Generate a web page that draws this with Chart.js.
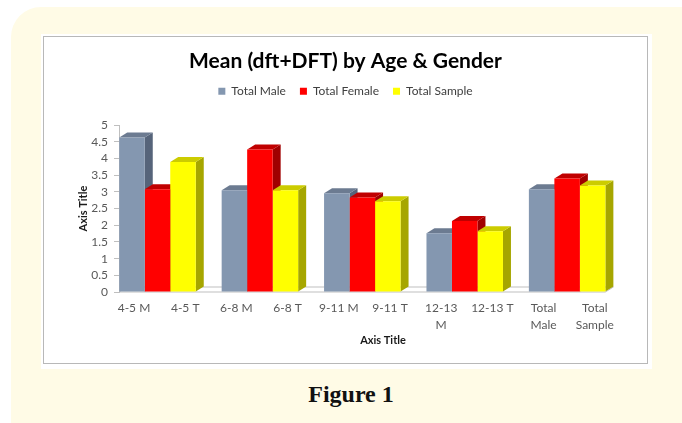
<!DOCTYPE html>
<html>
<head>
<meta charset="utf-8">
<script src="https://cdn.jsdelivr.net/npm/chart.js@4.4.1/dist/chart.umd.min.js"></script>
<style>
  html, body { margin: 0; padding: 0; background: #fff; width: 682px; height: 423px; overflow: hidden; }
  .cream { position: absolute; left: 11px; top: 7px; width: 720px; height: 460px; background: #fffbe6; border-radius: 30px; }
  .white { position: absolute; left: 41px; top: 34px; width: 611px; height: 335px; background: #fff; }
  .box { position: absolute; left: 43px; top: 36px; width: 605px; height: 328px; border: 1px solid #b8b8b8; box-sizing: border-box; background: #fff; }
  .fig { position: absolute; left: 251px; width: 200px; top: 381px; text-align: center; font: bold 24px "Liberation Serif", serif; color: #111; }
</style>
</head>
<body>
<div class="cream"></div>
<div class="white"></div>
<div class="box"><canvas id="chart"></canvas></div>
<div class="fig">Figure 1</div>
<script>
// data
var groups = ['4-5', '6-8', '9-11', '12-13', 'Total'];
var tickLabels = ['4-5 M', '4-5 T', '6-8 M', '6-8 T', '9-11 M', '9-11 T', ['12-13', 'M'], '12-13 T', ['Total', 'Male'], ['Total', 'Sample']];
var totalMale = [4.63, 3.05, 2.96, 1.76, 3.08];
var totalFemale = [3.08, 4.27, 2.83, 2.13, 3.40];
var totalSample = [3.90, 3.05, 2.72, 1.82, 3.19];

// front / top / side colours of the 3d columns
var shades = [
    { front: '#8497b0', top: '#6c7b91', side: '#56647a' },
    { front: '#ff0000', top: '#c00000', side: '#a00000' },
    { front: '#ffff00', top: '#cccc00', side: '#a6a600' }
];
var DX = 8, DY = 5;

function toPoints(values) {
    return values.map(function (v, i) { return { x: i, y: v }; });
}

// fake 3d: floor + column tops/sides drawn behind the front faces
var columns3d = {
    id: 'columns3d',
    beforeDatasetsDraw: function (chart) {
        var ctx = chart.ctx, area = chart.chartArea;
        var last = chart.getDatasetMeta(chart.data.datasets.length - 1).data;
        var endX = last[last.length - 1].x + last[last.length - 1].width / 2;
        ctx.save();
        ctx.beginPath();
        ctx.moveTo(area.left, area.bottom);
        ctx.lineTo(area.left + DX, area.bottom - DY);
        ctx.lineTo(endX + DX, area.bottom - DY);
        ctx.lineTo(endX, area.bottom);
        ctx.closePath();
        ctx.fillStyle = '#fff';
        ctx.fill();
        ctx.strokeStyle = '#bfbfbf';
        ctx.lineWidth = 1;
        ctx.stroke();
        var n = chart.data.datasets[0].data.length;
        for (var i = 0; i < n; i++) {
            chart.data.datasets.forEach(function (ds, d) {
                var bar = chart.getDatasetMeta(d).data[i];
                var l = bar.x - bar.width / 2, r = bar.x + bar.width / 2;
                ctx.fillStyle = shades[d].side;
                ctx.beginPath();
                ctx.moveTo(r, bar.y);
                ctx.lineTo(r + DX, bar.y - DY);
                ctx.lineTo(r + DX, bar.base - DY);
                ctx.lineTo(r, bar.base);
                ctx.closePath();
                ctx.fill();
                ctx.fillStyle = shades[d].top;
                ctx.beginPath();
                ctx.moveTo(l, bar.y);
                ctx.lineTo(l + DX, bar.y - DY);
                ctx.lineTo(r + DX, bar.y - DY);
                ctx.lineTo(r, bar.y);
                ctx.closePath();
                ctx.fill();
            });
        }
        ctx.restore();
    }
};

var legendGap = {
    id: 'legendGap',
    beforeInit: function (chart) {
        var fit = chart.legend.fit;
        chart.legend.fit = function () {
            fit.call(this);
            this.height += 18;
        };
    }
};

Chart.defaults.font.family = 'Lato, "Open Sans", sans-serif';
Chart.defaults.color = '#595959';

var ctx = document.getElementById('chart').getContext('2d');
var chart = new Chart(ctx, {
    type: 'bar',
    data: {
        labels: groups,
        datasets: [
            { label: 'Total Male', data: toPoints(totalMale), backgroundColor: shades[0].front },
            { label: 'Total Female', data: toPoints(totalFemale), backgroundColor: shades[1].front },
            { label: 'Total Sample', data: toPoints(totalSample), backgroundColor: shades[2].front }
        ]
    },
    options: {
        responsive: true,
        maintainAspectRatio: false,
        animation: false,
        categoryPercentage: 0.747,
        barPercentage: 1,
        layout: { padding: 0 },
        plugins: {
            title: {
                display: true,
                text: 'Mean (dft+DFT) by Age & Gender',
                color: '#000',
                font: { size: 21, weight: 'bold' },
                padding: { top: 12, bottom: -3 }
            },
            legend: {
                labels: { boxWidth: 7, boxHeight: 7, padding: 14, font: { size: 12 }, color: '#404040' }
            },
            tooltip: { enabled: false }
        },
        scales: {
            x: {
                type: 'linear',
                display: false,
                offset: false,
                min: -0.376,
                max: 4.78,
                afterBuildTicks: function (scale) {
                    scale.ticks = groups.map(function (g, i) { return { value: i }; });
                }
            },
            x2: {
                type: 'linear',
                axis: 'x',
                position: 'bottom',
                offset: false,
                min: -0.293,
                max: 10.02,
                afterBuildTicks: function (scale) {
                    scale.ticks = tickLabels.map(function (t, i) { return { value: i }; });
                },
                afterFit: function (scale) { scale.height = 71; },
                grid: { display: false, offset: false },
                border: { display: false },
                ticks: {
                    autoSkip: false,
                    maxRotation: 0,
                    padding: 0,
                    font: { size: 12, lineHeight: 1.4 },
                    callback: function (v) { return tickLabels[v]; }
                },
                title: { display: true, text: 'Axis Title', color: '#1a1a1a', font: { size: 11, weight: 'bold' }, padding: { top: 0, bottom: 16 } }
            },
            y: {
                min: 0,
                max: 5,
                afterFit: function (scale) { scale.width = 75; },
                ticks: {
                    stepSize: 0.5,
                    autoSkip: false,
                    padding: 6,
                    font: { size: 12 },
                    callback: function (v) { return String(Math.round(v * 10) / 10); }
                },
                grid: { drawOnChartArea: false, tickLength: 5, color: '#bfbfbf' },
                border: { color: '#bfbfbf' },
                title: { display: true, text: 'Axis Title', color: '#1a1a1a', font: { size: 11, weight: 'bold' }, padding: { top: 33, bottom: 0 } }
            }
        }
    },
    plugins: [columns3d, legendGap]
});
</script>
</body>
</html>
